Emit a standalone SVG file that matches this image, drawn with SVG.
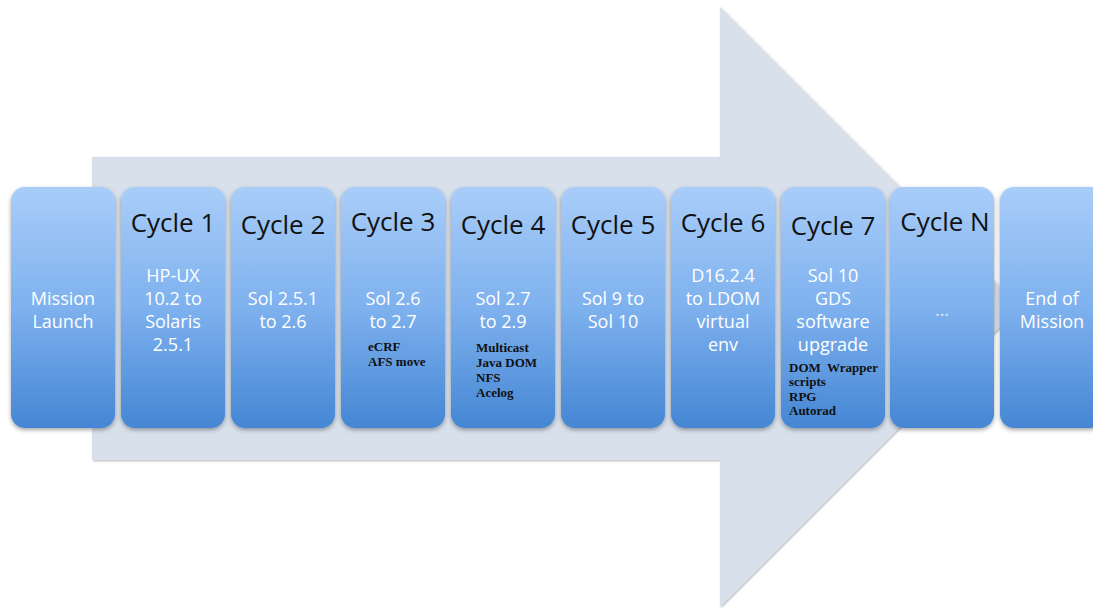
<svg xmlns="http://www.w3.org/2000/svg" width="1093" height="611" viewBox="0 0 1093 611">
<defs>
<linearGradient id="nodeGrad" x1="0" y1="0" x2="0" y2="1">
<stop offset="0" stop-color="#a9cdf9"/>
<stop offset="0.5" stop-color="#7eb1ee"/>
<stop offset="1" stop-color="#4586d4"/>
</linearGradient>
<filter id="shadow" x="-10%" y="-10%" width="120%" height="120%">
<feDropShadow dx="0" dy="2" stdDeviation="2" flood-color="#000" flood-opacity="0.35"/>
</filter>
<filter id="arrowShadow" x="-5%" y="-5%" width="110%" height="110%">
<feDropShadow dx="1" dy="1" stdDeviation="1.2" flood-color="#000" flood-opacity="0.3"/>
</filter>
</defs>
<style>
.node rect { fill: url(#nodeGrad); filter: url(#shadow); }
.title { font-family: "Open Sans", "Liberation Sans", sans-serif; font-size: 26px; fill: #111; text-anchor: middle; }
.body { font-family: "Open Sans", "Liberation Sans", sans-serif; font-size: 18px; fill: #ffffff; text-anchor: middle; }
.note { font-family: "Liberation Serif", "Times New Roman", serif; font-size: 13px; font-weight: bold; fill: #111; white-space: pre; }
</style>
<rect width="1093" height="611" fill="#ffffff"/>
<g id="connectors">
<polygon id="arrow" points="92,157 720,157 720,7 1020,307 720,607 720,460 92,460" fill="#d7e0eb" filter="url(#arrowShadow)"/>
</g>
<g id="mission-launch" class="node">
<rect x="11" y="187" width="104" height="241" rx="14"/>
<text class="body" x="63" y="305">Mission</text>
<text class="body" x="63" y="328">Launch</text>
</g>
<g id="cycle-1" class="node">
<rect x="121" y="187" width="104" height="241" rx="14"/>
<text class="title" x="173" y="232">Cycle 1</text>
<text class="body" x="173" y="282">HP-UX</text>
<text class="body" x="173" y="305">10.2 to</text>
<text class="body" x="173" y="328">Solaris</text>
<text class="body" x="173" y="351">2.5.1</text>
</g>
<g id="cycle-2" class="node">
<rect x="231" y="187" width="104" height="241" rx="14"/>
<text class="title" x="283" y="234">Cycle 2</text>
<text class="body" x="283" y="305">Sol 2.5.1</text>
<text class="body" x="283" y="328">to 2.6</text>
</g>
<g id="cycle-3" class="node">
<rect x="341" y="187" width="104" height="241" rx="14"/>
<text class="title" x="393" y="231">Cycle 3</text>
<text class="body" x="393" y="305">Sol 2.6</text>
<text class="body" x="393" y="328">to 2.7</text>
<text class="note" x="368" y="351">eCRF</text>
<text class="note" x="368" y="366">AFS move</text>
</g>
<g id="cycle-4" class="node">
<rect x="451" y="187" width="104" height="241" rx="14"/>
<text class="title" x="503" y="234">Cycle 4</text>
<text class="body" x="503" y="305">Sol 2.7</text>
<text class="body" x="503" y="328">to 2.9</text>
<text class="note" x="476" y="352">Multicast</text>
<text class="note" x="476" y="367">Java DOM</text>
<text class="note" x="476" y="382">NFS</text>
<text class="note" x="476" y="397">Acelog</text>
</g>
<g id="cycle-5" class="node">
<rect x="561" y="187" width="104" height="241" rx="14"/>
<text class="title" x="613" y="234">Cycle 5</text>
<text class="body" x="613" y="305">Sol 9 to</text>
<text class="body" x="613" y="328">Sol 10</text>
</g>
<g id="cycle-6" class="node">
<rect x="671" y="187" width="104" height="241" rx="14"/>
<text class="title" x="723" y="232">Cycle 6</text>
<text class="body" x="723" y="282">D16.2.4</text>
<text class="body" x="723" y="305">to LDOM</text>
<text class="body" x="723" y="328">virtual</text>
<text class="body" x="723" y="351">env</text>
</g>
<g id="cycle-7" class="node">
<rect x="781" y="187" width="104" height="241" rx="14"/>
<text class="title" x="833" y="235">Cycle 7</text>
<text class="body" x="833" y="282">Sol 10</text>
<text class="body" x="833" y="305">GDS</text>
<text class="body" x="833" y="328">software</text>
<text class="body" x="833" y="351">upgrade</text>
<text class="note" x="789" y="372">DOM  Wrapper</text>
<text class="note" x="789" y="386">scripts</text>
<text class="note" x="789" y="401">RPG</text>
<text class="note" x="789" y="415">Autorad</text>
</g>
<g id="cycle-n" class="node">
<rect x="890" y="187" width="104" height="241" rx="14"/>
<text class="title" x="945" y="231">Cycle N</text>
<text class="body" x="942" y="316" fill="#dde8f6" style="fill:#dde8f6">...</text>
</g>
<g id="end-of-mission" class="node">
<rect x="1000" y="187" width="104" height="241" rx="14"/>
<text class="body" x="1052" y="305">End of</text>
<text class="body" x="1052" y="328">Mission</text>
</g>
</svg>
